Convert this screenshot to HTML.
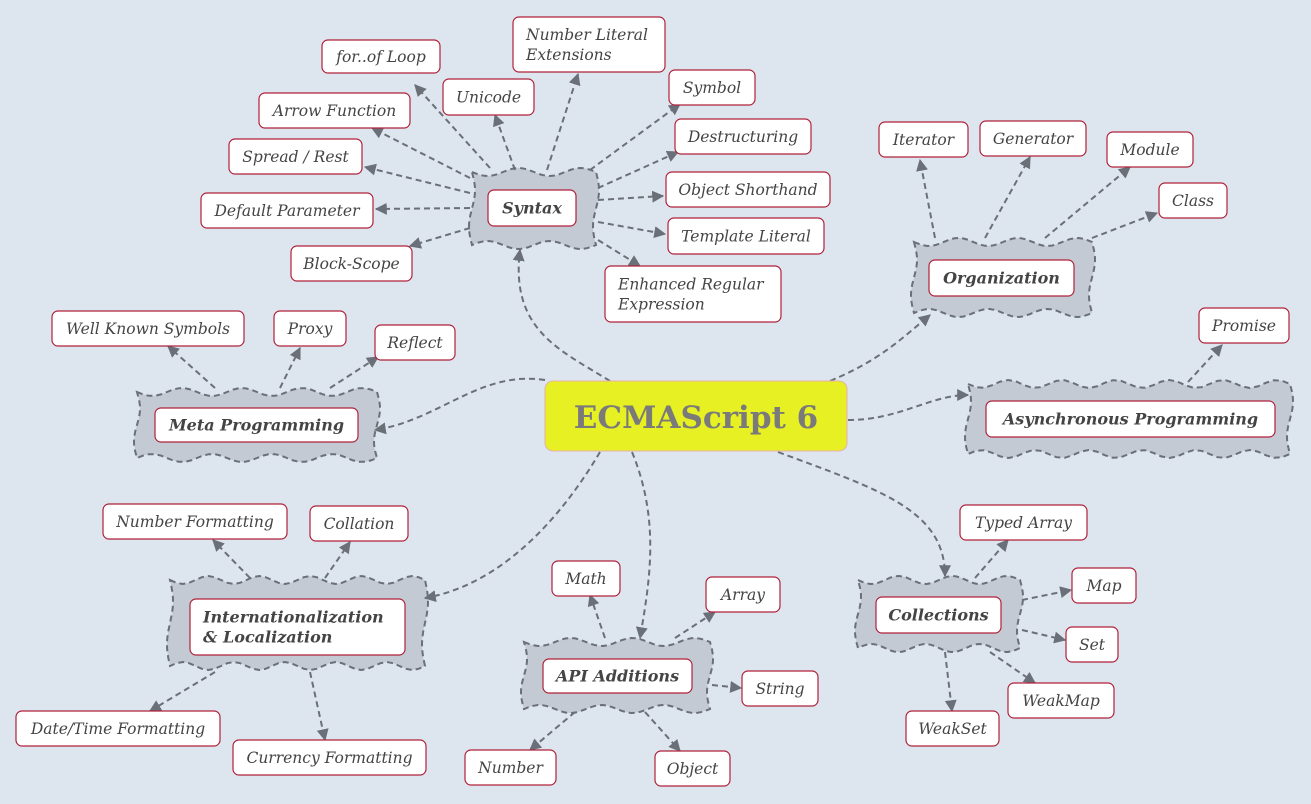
<!DOCTYPE html>
<html><head><meta charset="utf-8"><style>
html,body{margin:0;padding:0;background:#dde5ee;}
svg{display:block;}
text{font-family:"DejaVu Serif","Liberation Serif",serif;}
.lf{font-style:italic;font-size:15.5px;fill:#444;}
.md{font-style:italic;font-weight:bold;font-size:16px;fill:#444;}
</style></head><body>
<svg id="s" width="1311" height="804" xmlns="http://www.w3.org/2000/svg">
<defs><marker id="a" viewBox="0 0 10 10" refX="9" refY="5" markerWidth="6" markerHeight="6" orient="auto"><path d="M0,0L10,5L0,10z" fill="#6b6f78"/></marker></defs>
<rect width="1311" height="804" fill="#dde5ee"/>
<g id="w"></g><g id="e" fill="none" stroke="#6b6f78" stroke-width="2" stroke-dasharray="6,4"></g><g id="n"></g>
<rect x="545" y="381" width="302" height="70" rx="8" fill="#e6f022" stroke="#e8b0b0"/>
<text x="696" y="428" text-anchor="middle" font-size="31" font-weight="bold" fill="#7a7a7a" style="font-family:'DejaVu Serif','Liberation Serif',serif">ECMAScript 6</text>
</svg>
<script>
var NS="http://www.w3.org/2000/svg";
function el(p,t,a,txt){var e=document.createElementNS(NS,t);for(var k in a)e.setAttribute(k,a[k]);if(txt)e.textContent=txt;document.getElementById(p).appendChild(e);return e;}
function wave(x1,y1,x2,y2){var d="",A=4,n,i,x,y;
 n=Math.max(2,Math.round((x2-x1)/55));
 d="M"+x1+","+y1;
 for(i=1;i<=40;i++){x=x1+(x2-x1)*i/40;y=y1+A*Math.sin(Math.PI*2*n*i/40);d+="L"+x.toFixed(1)+","+y.toFixed(1);}
 for(i=1;i<=20;i++){y=y1+(y2-y1)*i/20;x=x2+3*Math.sin(Math.PI*2*i/20);d+="L"+x.toFixed(1)+","+y.toFixed(1);}
 for(i=1;i<=40;i++){x=x2-(x2-x1)*i/40;y=y2+A*Math.sin(Math.PI*2*n*i/40);d+="L"+x.toFixed(1)+","+y.toFixed(1);}
 for(i=1;i<=20;i++){y=y2-(y2-y1)*i/20;x=x1-3*Math.sin(Math.PI*2*i/20);d+="L"+x.toFixed(1)+","+y.toFixed(1);}
 el("w","path",{d:d+"Z",fill:"#c4cad3",stroke:"#6b6f78","stroke-width":2,"stroke-dasharray":"6,4"});}
function box(x,y,w,h,t,cls){el("n","rect",{x:x,y:y,width:w,height:h,rx:6,fill:"#fff",stroke:"#b0213a","stroke-width":1.2});
 var lines=t.split("|");var lh=20;var y0=y+h/2-(lines.length-1)*lh/2+5.5;
 lines.forEach(function(s,i){el("n","text",{x:lines.length>1?x+13:x+w/2,y:y0+i*lh,"text-anchor":lines.length>1?"start":"middle","class":cls},s);});}
[[472,172,596,245],[914,242,1092,313],[968,384,1290,454],[137,392,377,458],[170,580,425,666],[524,642,710,709],[858,580,1020,648]].forEach(function(r){wave.apply(null,r);});
var L=[[322,40,118,33,"for..of Loop"],[443,79,91,36,"Unicode"],[513,17,152,55,"Number Literal|Extensions"],[669,70,86,35,"Symbol"],[259,93,151,35,"Arrow Function"],[675,119,136,35,"Destructuring"],[229,139,133,35,"Spread / Rest"],[666,172,164,35,"Object Shorthand"],[201,193,172,35,"Default Parameter"],[668,218,156,36,"Template Literal"],[291,246,121,35,"Block-Scope"],[605,266,176,56,"Enhanced Regular|Expression"],[879,122,89,35,"Iterator"],[980,121,106,35,"Generator"],[1107,132,86,35,"Module"],[1159,183,68,35,"Class"],[1199,308,90,35,"Promise"],[52,311,192,35,"Well Known Symbols"],[274,311,72,35,"Proxy"],[375,325,80,35,"Reflect"],[103,504,184,35,"Number Formatting"],[310,506,98,35,"Collation"],[16,711,204,35,"Date/Time Formatting"],[233,740,193,35,"Currency Formatting"],[552,561,68,35,"Math"],[706,577,74,35,"Array"],[742,671,76,35,"String"],[465,750,91,35,"Number"],[655,751,75,35,"Object"],[960,505,127,35,"Typed Array"],[1072,568,64,35,"Map"],[1066,627,52,35,"Set"],[1008,683,106,35,"WeakMap"],[906,711,93,35,"WeakSet"]];
L.forEach(function(b){box(b[0],b[1],b[2],b[3],b[4],"lf");});
var M=[[488,190,88,36,"Syntax"],[929,260,145,36,"Organization"],[986,401,289,36,"Asynchronous Programming"],[155,408,203,34,"Meta Programming"],[190,599,215,56,"Internationalization|& Localization"],[543,659,149,34,"API Additions"],[876,597,125,36,"Collections"]];
M.forEach(function(b){box(b[0],b[1],b[2],b[3],b[4],"md");});
var E=[[490,168,415,85],[515,170,495,115],[547,170,578,74],[590,170,680,104],[470,178,372,128],[598,188,678,152],[470,193,365,167],[598,200,663,196],[470,208,376,209],[598,222,665,234],[470,228,410,246],[598,240,640,266],
[935,238,920,160],[985,238,1030,157],[1045,238,1130,167],[1092,238,1157,213],[1188,382,1222,345],
[215,388,168,346],[280,388,300,348],[330,388,378,357],
[250,578,213,540],[325,578,350,542],[215,672,150,711],[310,672,325,740],
[605,638,590,595],[675,638,715,612],[712,685,741,688],[575,712,530,750],[645,712,680,751],
[975,578,1008,540],[1022,600,1071,590],[1022,630,1065,640],[990,652,1035,683],[945,652,952,711]];
E.forEach(function(l){el("e","path",{d:"M"+l[0]+","+l[1]+"L"+l[2]+","+l[3],"marker-end":"url(#a)"});});
["M610,381 C560,350 510,330 520,250","M830,381 C880,360 900,340 930,315","M848,420 C900,420 930,395 968,395","M545,380 C480,370 440,420 375,430","M600,452 C560,520 500,585 425,598","M632,452 C660,520 650,580 640,638","M778,452 C880,490 945,510 945,576"].forEach(function(d){el("e","path",{d:d,"marker-end":"url(#a)"});});
</script>
</body></html>
